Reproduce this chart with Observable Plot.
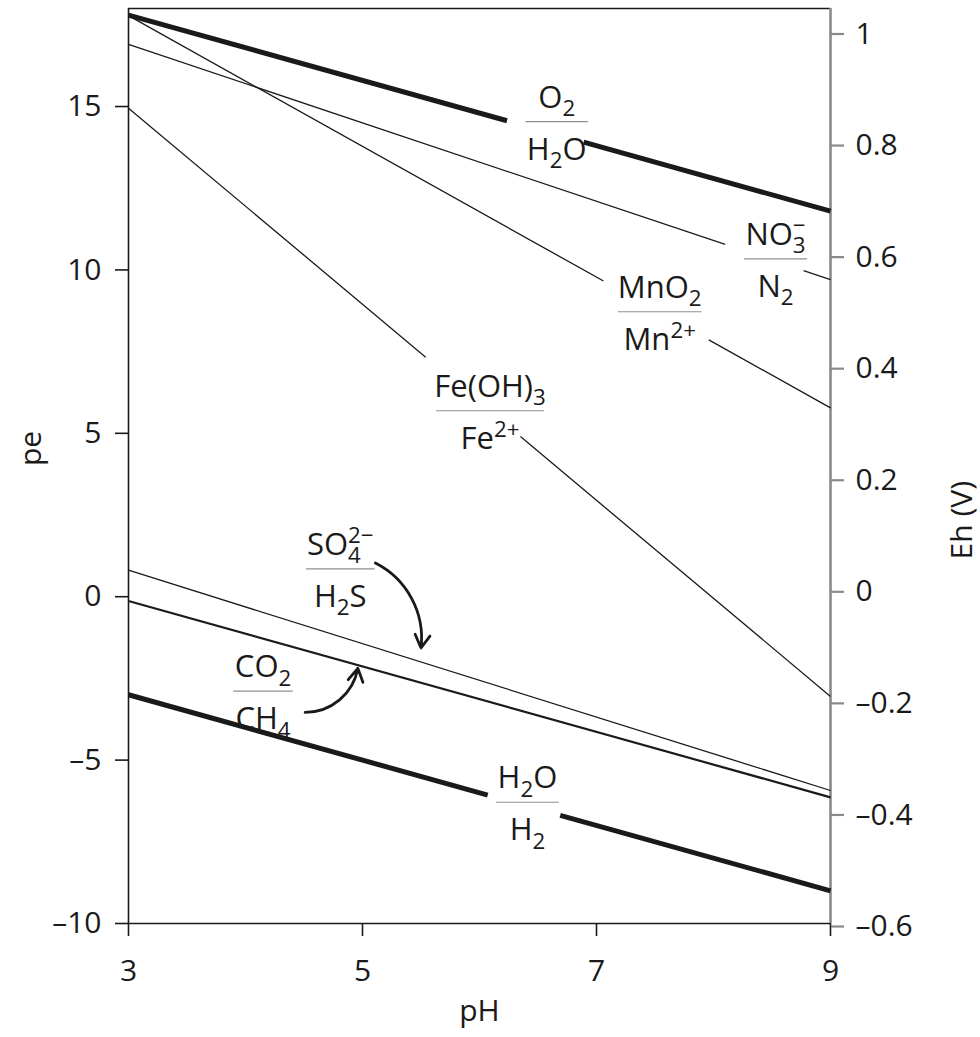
<!DOCTYPE html>
<html>
<head>
<meta charset="utf-8">
<script src="https://cdn.jsdelivr.net/npm/d3@7"></script>
<script src="https://cdn.jsdelivr.net/npm/@observablehq/plot@0.6"></script>
<style>
  html, body { margin: 0; padding: 0; background: #fff; }
  #chart svg { display: block; }
</style>
</head>
<body>
<div id="chart"></div>
<script>
// ---------------- data ----------------
const pHTicks = [3, 5, 7, 9];
const peTicks = [-10, -5, 0, 5, 10, 15];
const ehTicks = [-0.6, -0.4, -0.2, 0, 0.2, 0.4, 0.6, 0.8, 1];

// redox couple line segments (pH, pe) – gaps are where labels sit
const segCouple = ["O2/H2O", "O2/H2O", "NO3-/N2", "NO3-/N2", "MnO2/Mn2+", "MnO2/Mn2+",
                   "Fe(OH)3/Fe2+", "Fe(OH)3/Fe2+", "SO4/H2S", "CO2/CH4", "H2O/H2", "H2O/H2"];
const segPH1 = [3, 6.89, 3, 8.77, 3, 7.96, 3, 6.35, 3, 3, 3, 6.69];
const segPE1 = [17.8, 13.91, 16.9, 9.976, 17.78, 7.86, 14.95, 4.90, 0.81, -0.13, -3, -6.69];
const segPH2 = [6.235, 9, 8.10, 9, 7.06, 9, 5.54, 9, 9, 9, 6.07, 9];
const segPE2 = [14.565, 11.8, 10.78, 9.7, 9.66, 5.78, 7.33, -3.05, -5.93, -6.14, -6.07, -9];
const thickCouples = ["O2/H2O", "H2O/H2"];
const mediumCouples = ["CO2/CH4"];

// fraction labels: numerator / denominator, centred on (pH, pe) of the fraction bar
const labNum = ["O_2", "NO_3^−", "MnO_2", "Fe(OH)_3", "SO_4^2−", "CO_2", "H_2O"];
const labDen = ["H_2O", "N_2", "Mn^2+", "Fe^2+", "H_2S", "CH_4", "H_2"];
const labPH = [6.66, 8.53, 7.54, 6.09, 4.81, 4.15, 6.41];
const labPE = [14.54, 10.34, 8.72, 5.69, 0.85, -2.89, -6.29];

// pointer arrows (label -> line)
const arrowPH1 = [5.11, 4.51];
const arrowPE1 = [1.03, -3.54];
const arrowPH2 = [5.50, 4.96];
const arrowPE2 = [-1.57, -2.19];

// ---------------- layout / style ----------------
const W = 980, H = 1037;
const ML = 128, MR = 150, MT = 8, MB = 114;
const FONT = "Open Sans";
const FS = 30;      // tick labels
const LFS = 31;     // chemistry labels
const INK = "#1a1a1a";
const pxPerPH = (W - ML - MR) / (pHTicks[pHTicks.length - 1] - pHTicks[0]);

const ehToPe = e => 0.15 + e * 17.07;
const peToEh = p => Math.round((p - 0.15) / 17.07 * 10) / 10;
const fmt = v => (v < 0 ? "–" : "") + String(Math.abs(v));

// parse simple chemistry markup: _x = subscript char, ^... = superscript (to end)
function parseChem(s) {
  const parts = []; let buf = ""; let i = 0;
  while (i < s.length) {
    const c = s[i];
    if (c === "_") { if (buf) { parts.push({t: buf, k: "n"}); buf = ""; } parts.push({t: s[i + 1], k: "sub"}); i += 2; }
    else if (c === "^") { if (buf) { parts.push({t: buf, k: "n"}); buf = ""; } parts.push({t: s.slice(i + 1), k: "sup"}); break; }
    else { buf += c; i++; }
  }
  if (buf) parts.push({t: buf, k: "n"});
  return parts;
}
const SUBF = 0.72;
const ctx = document.createElement("canvas").getContext("2d");
function measureChem(s) {
  let w = 0, prevSub = 0;
  for (const p of parseChem(s)) {
    const size = p.k === "n" ? LFS : LFS * SUBF;
    ctx.font = `${size}px "${FONT}"`;
    const pw = ctx.measureText(p.t).width;
    if (p.k === "sup" && prevSub) { w += Math.max(0, pw - prevSub); }
    else w += pw;
    prevSub = p.k === "sub" ? pw : 0;
  }
  return w;
}
const labIdx = labNum.map((_, i) => i);
const barHalf = labIdx.map(i => {
  const px = Math.max(58, Math.max(measureChem(labNum[i]), measureChem(labDen[i])) * 0.88 + 10);
  return px / 2 / pxPerPH;
});

const segIdx = segCouple.map((_, i) => i);
const isThick = i => thickCouples.includes(segCouple[i]);
const isMed = i => mediumCouples.includes(segCouple[i]);
const segOpts = {x1: i => segPH1[i], y1: i => segPE1[i], x2: i => segPH2[i], y2: i => segPE2[i], stroke: INK};

const chart = Plot.plot({
  width: W, height: H,
  marginLeft: ML, marginRight: MR, marginTop: MT, marginBottom: MB,
  style: {fontFamily: `"${FONT}", sans-serif`, fontSize: FS + "px", color: INK, background: "#fff"},
  x: {domain: [3, 9]},
  y: {domain: [-10, 18]},
  marks: [
    // frame
    Plot.ruleY([18], {stroke: INK, strokeWidth: 1.6}),
    Plot.ruleY([-10], {stroke: INK, strokeWidth: 1.6}),
    Plot.ruleX([3], {stroke: INK, strokeWidth: 1.6}),
    Plot.ruleX([9], {stroke: "#8a8a8a", strokeWidth: 2.6}),
    // axes
    Plot.axisX(pHTicks, {anchor: "bottom", tickSize: 13, tickPadding: 23, strokeWidth: 1.6, label: null, tickFormat: fmt}),
    Plot.axisY(peTicks, {anchor: "left", tickSize: 13, tickPadding: 14, strokeWidth: 1.6, label: null, tickFormat: fmt}),
    Plot.axisY(ehTicks.map(ehToPe), {anchor: "right", tickSize: 13, tickPadding: 12, stroke: "#8a8a8a", strokeWidth: 2.2, label: null, tickFormat: d => fmt(peToEh(d))}),
    Plot.text(["pe"], {text: d => d, frameAnchor: "left", dx: -97, rotate: -90, fill: INK}),
    Plot.text(["Eh (V)"], {text: d => d, frameAnchor: "right", dx: 132, dy: 15, rotate: -90, fill: INK}),
    Plot.text(["pH"], {text: d => d, frameAnchor: "bottom", dy: 97, fill: INK}),
    // redox lines
    Plot.link(segIdx.filter(i => !isThick(i) && !isMed(i)), {...segOpts, strokeWidth: 1.3}),
    Plot.link(segIdx.filter(isMed), {...segOpts, strokeWidth: 2.2}),
    Plot.link(segIdx.filter(isThick), {...segOpts, strokeWidth: 5}),
    // fraction bars
    Plot.link(labIdx, {x1: i => labPH[i] - barHalf[i], x2: i => labPH[i] + barHalf[i], y1: i => labPE[i], y2: i => labPE[i], stroke: "#8f8f8f", strokeWidth: 1.2}),
    // numerators / denominators
    Plot.text(labIdx, {x: i => labPH[i], y: i => labPE[i], text: i => labNum[i], lineAnchor: "bottom", dy: -14, fontSize: LFS, fill: INK}),
    Plot.text(labIdx, {x: i => labPH[i], y: i => labPE[i], text: i => labDen[i], lineAnchor: "bottom", dy: 38, fontSize: LFS, fill: INK}),
    // arrows
    Plot.arrow([0], {x1: i => arrowPH1[i], y1: i => arrowPE1[i], x2: i => arrowPH2[i], y2: i => arrowPE2[i], bend: 35, stroke: INK, strokeWidth: 2.8}),
    Plot.arrow([1], {x1: i => arrowPH1[i], y1: i => arrowPE1[i], x2: i => arrowPH2[i], y2: i => arrowPE2[i], bend: -40, stroke: INK, strokeWidth: 2.8})
  ]
});
document.getElementById("chart").appendChild(chart);

// turn chemistry markup into sub/superscript tspans
const NS = "http://www.w3.org/2000/svg";
chart.querySelectorAll("text").forEach(el => {
  const s = el.textContent;
  if (!/[_^]/.test(s)) return;
  const parts = parseChem(s);
  el.textContent = "";
  const subShift = 0.27 * LFS, supShift = -0.38 * LFS;
  let cur = 0, prevW = 0, prevK = null;
  for (const p of parts) {
    const t = document.createElementNS(NS, "tspan");
    t.textContent = p.t;
    const target = p.k === "sub" ? subShift : p.k === "sup" ? supShift : 0;
    if (p.k !== "n") t.setAttribute("font-size", (LFS * SUBF).toFixed(1));
    if (target !== cur) t.setAttribute("dy", (target - cur).toFixed(1));
    if (p.k === "sup" && prevK === "sub") t.setAttribute("dx", (-prevW).toFixed(1));
    el.appendChild(t);
    cur = target; prevK = p.k;
    prevW = t.getComputedTextLength();
  }
});
</script>
</body>
</html>
